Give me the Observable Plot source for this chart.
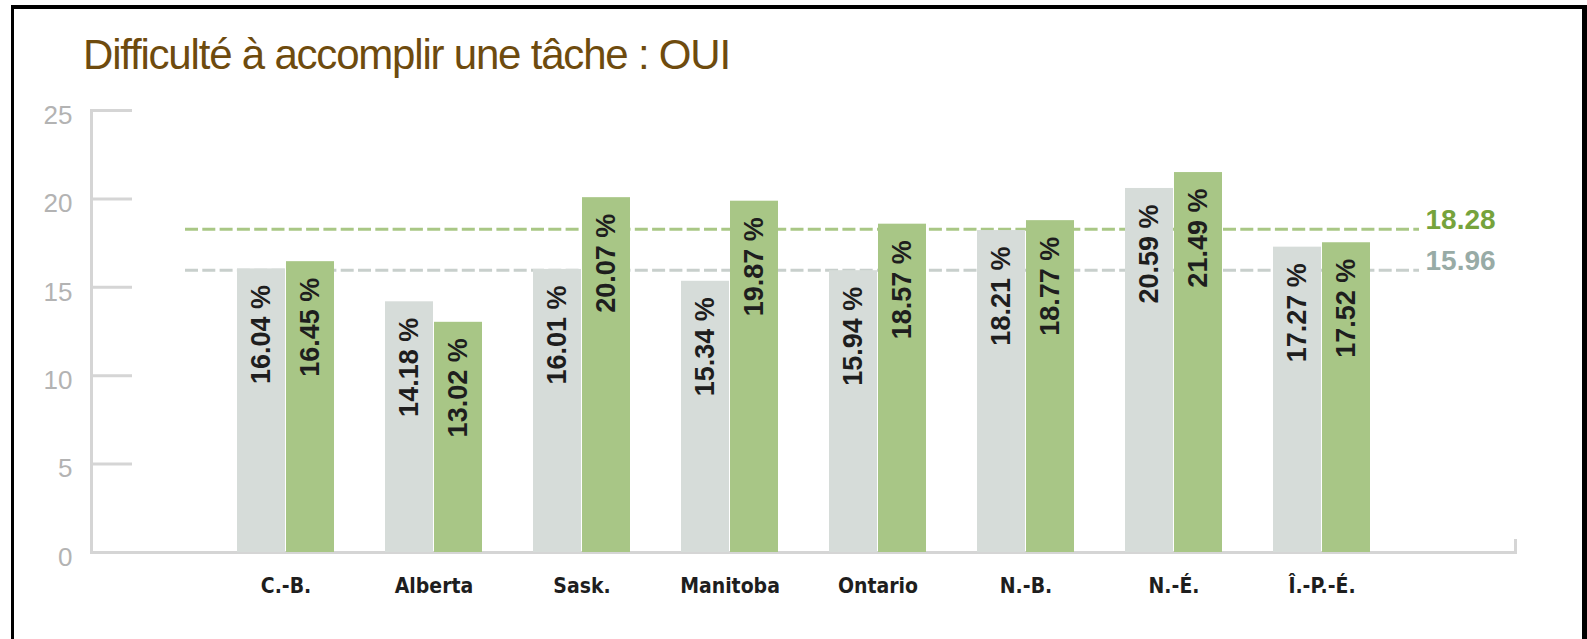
<!DOCTYPE html>
<html><head><meta charset="utf-8">
<script src="https://cdn.jsdelivr.net/npm/d3@7"></script>
<script src="https://cdn.jsdelivr.net/npm/@observablehq/plot@0.6"></script>
<style>
html,body{margin:0;padding:0;background:#fff;overflow:hidden;width:1587px;height:639px}
#wrap{position:relative;width:1587px;height:639px;overflow:hidden}
#border{position:absolute;left:11px;top:5px;width:1576px;height:700px;box-sizing:border-box;border-top:4px solid #000;border-left:3px solid #000;border-right:5px solid #000;pointer-events:none}
#title{position:absolute;left:83px;top:34px;font:42px "Liberation Sans",Arial,sans-serif;letter-spacing:-1.2px;color:#6e4b0e;line-height:42px;white-space:nowrap}
#chart{position:absolute;left:0;top:95px}
</style></head>
<body><div id="wrap"><div id="border"></div><div id="title">Difficulté à accomplir une tâche : OUI</div><div id="chart"></div></div>
<script>
const provinces = ["C.-B.", "Alberta", "Sask.", "Manitoba", "Ontario", "N.-B.", "N.-É.", "Î.-P.-É."];
const greyValues = [16.04, 14.18, 16.01, 15.34, 15.94, 18.21, 20.59, 17.27];
const greenValues = [16.45, 13.02, 20.07, 19.87, 18.57, 18.77, 21.49, 17.52];
const greyAverage = 15.96;
const greenAverage = 18.28;
const yTicks = [0, 5, 10, 15, 20, 25];

const W = 1587, H = 544;
const mL = 91, mR = 72, mT = 15, mB = 87;
const padIn = 0.346, padOut = 0.974;
const step = (W - mL - mR) / (provinces.length - padIn + 2 * padOut);
const bw = step * (1 - padIn);
const half = bw / 2 + 0.5;

const greyData = provinces.map((p, i) => ({prov: p, value: greyValues[i]}));
const greenData = provinces.map((p, i) => ({prov: p, value: greenValues[i]}));
const fmt = d => d.value.toFixed(2) + " %";

const axisColor = "#d5d5d5";
const greyFill = "#d6dcd9", greenFill = "#a8c686";
const frameW = W - mL - mR, frameH = H - mT - mB;

const chart = Plot.plot({
  width: W, height: H,
  marginLeft: mL, marginRight: mR, marginTop: mT, marginBottom: mB,
  style: {fontFamily: "'Liberation Sans', Arial, sans-serif", background: "transparent"},
  x: {domain: provinces, paddingInner: padIn, paddingOuter: padOut, axis: null},
  y: {domain: [0, 25], axis: null},
  marks: [
    Plot.ruleY(yTicks, {y: d => d, stroke: axisColor, strokeWidth: 3, insetRight: frameW - 41}),
    Plot.frame({anchor: "left", stroke: axisColor, strokeWidth: 3}),
    Plot.ruleY([0], {stroke: axisColor, strokeWidth: 3}),
    Plot.frame({anchor: "right", stroke: axisColor, strokeWidth: 3, insetTop: frameH - 12}),
    Plot.ruleY([greenAverage], {y: d => d, stroke: "#a9c785", strokeWidth: 3, strokeDasharray: "13,4.3", insetLeft: 94, insetRight: 96}),
    Plot.ruleY([greyAverage], {y: d => d, stroke: "#c8cfcc", strokeWidth: 3, strokeDasharray: "13,4.3", insetLeft: 94, insetRight: 96}),
    Plot.barY(greyData, {x: "prov", y: "value", fill: greyFill, insetRight: half}),
    Plot.barY(greenData, {x: "prov", y: "value", fill: greenFill, insetLeft: half}),
    Plot.text(greyData, {x: "prov", y: "value", text: fmt, rotate: -90, textAnchor: "end", dx: -bw / 4, dy: 16, fontSize: 27, fontWeight: "bold", fill: "#1e1e1e"}),
    Plot.text(greenData, {x: "prov", y: "value", text: fmt, rotate: -90, textAnchor: "end", dx: bw / 4, dy: 16, fontSize: 27, fontWeight: "bold", fill: "#1e1e1e"}),
    Plot.text([greenAverage], {y: d => d, text: d => d.toFixed(2), frameAnchor: "right", textAnchor: "start", dx: -90, dy: -9, fontSize: 28, fontWeight: "bold", fill: "#76a33c"}),
    Plot.text([greyAverage], {y: d => d, text: d => d.toFixed(2), frameAnchor: "right", textAnchor: "start", dx: -90, dy: -9, fontSize: 28, fontWeight: "bold", fill: "#98aba6"}),
    Plot.text(yTicks, {y: d => d, text: d => String(d), frameAnchor: "left", textAnchor: "end", dx: -19, dy: 5, fontSize: 26, fill: "#b3b3b3"}),
    Plot.text(provinces, {x: d => d, text: d => d, frameAnchor: "bottom", lineAnchor: "top", dy: 26, fontSize: 21, fontWeight: "bold", fill: "#1e1e1e", fontFamily: "'Liberation Sans Narrow', 'DejaVu Sans Condensed', 'Liberation Sans', sans-serif"})
  ]
});
document.getElementById("chart").appendChild(chart);
</script>
</body></html>
